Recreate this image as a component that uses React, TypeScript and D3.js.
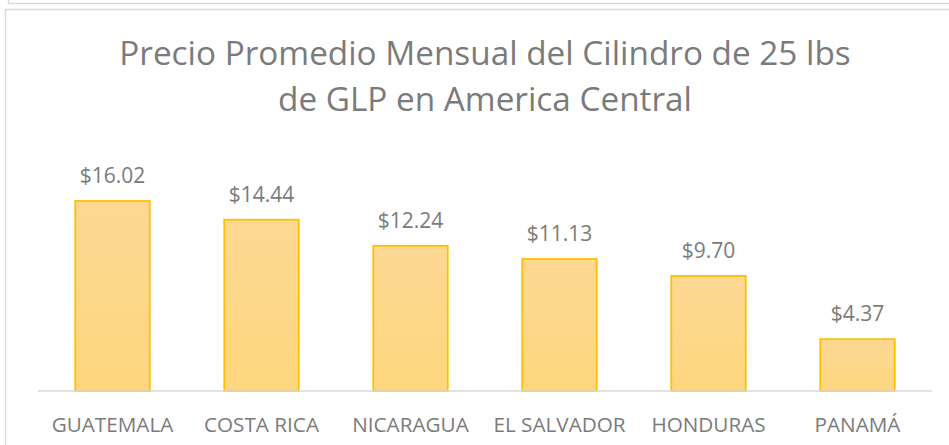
import React from "react";
import * as d3 from "d3";

const categories = ["GUATEMALA", "COSTA RICA", "NICARAGUA", "EL SALVADOR", "HONDURAS", "PANAMÁ"];
const values = [16.02, 14.44, 12.24, 11.13, 9.7, 4.37];
const titleLines = ["Precio Promedio Mensual del Cilindro de 25 lbs", "de GLP en America Central"];

const W = 949;
const H = 445;

export default function App() {
  const x = d3.scaleBand<string>().domain(categories).range([38, 932]).paddingInner(0.5).paddingOuter(0.25);
  const y = d3.scaleLinear().domain([0, 18]).range([391, 177.5]);
  const font = "'Open Sans', sans-serif";
  const textColor = "#7b7b7b";
  return (
    <svg width={W} height={H} style={{ position: "absolute", left: 0, top: 0, background: "#fff" }}>
      <defs>
        <linearGradient id="barGrad" x1="0" y1="0" x2="0" y2="1">
          <stop offset="0%" stopColor="#FDD893" />
          <stop offset="100%" stopColor="#FED67E" />
        </linearGradient>
      </defs>
      <path d="M8.5,0 V3.5 H949" fill="none" stroke="#d9d9d9" strokeWidth={1.5} />
      <path d="M5.5,445 V9.5 H949" fill="none" stroke="#d9d9d9" strokeWidth={1.5} />
      {titleLines.map((t, i) => (
        <text key={i} x={485} y={65 + i * 46} textAnchor="middle" fontFamily={font} fontSize={33.3} fill={textColor}>
          {t}
        </text>
      ))}
      {categories.map((c, i) => {
        const bx = x(c)!;
        const bw = x.bandwidth();
        return (
          <g key={c}>
            <rect x={bx} y={y(values[i])} width={bw} height={y(0) - y(values[i])} fill="url(#barGrad)" stroke="#FFC000" strokeWidth={1.8} />
            <text x={bx + bw / 2} y={y(values[i]) - 18} textAnchor="middle" fontFamily={font} fontSize={21} fill={textColor}>
              {"$" + values[i].toFixed(2)}
            </text>
            <text x={bx + bw / 2} y={432} textAnchor="middle" fontFamily={font} fontSize={20.7} fill={textColor}>
              {c}
            </text>
          </g>
        );
      })}
      <line x1={38} x2={932} y1={391} y2={391} stroke="#d9d9d9" strokeWidth={1.5} />
    </svg>
  );
}
